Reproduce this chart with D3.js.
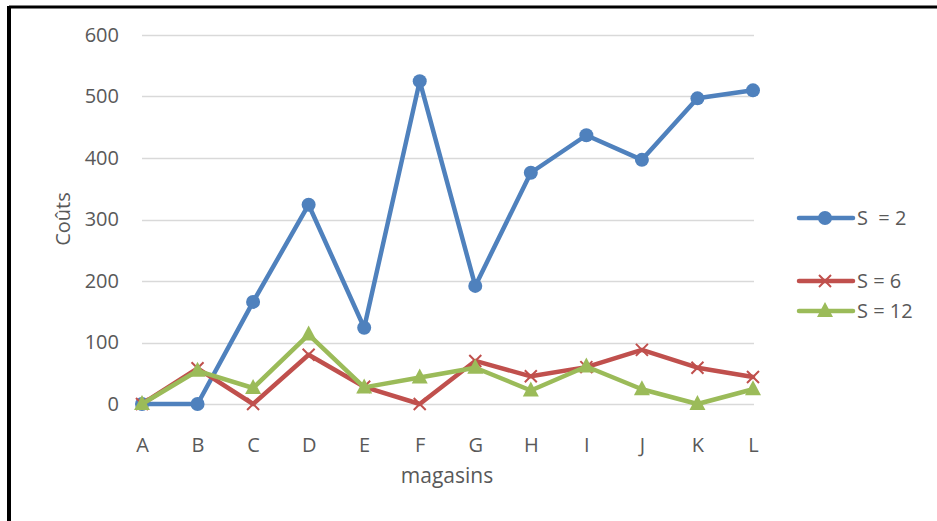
<!DOCTYPE html>
<html lang="fr">
<head>
    <meta charset="UTF-8">
    <title>Coûts par magasin</title>
    <script src="https://d3js.org/d3.v7.min.js"></script>
    <style>
        body { margin: 0; background: #fff; }
        text { font-family: "Open Sans", sans-serif; fill: #595959; }
    </style>
</head>
<body>
    <div id="chart"></div>
    <script>
        // data
        const magasins = ["A", "B", "C", "D", "E", "F", "G", "H", "I", "J", "K", "L"]
        const s2 = [0, 0, 166, 324, 124, 525, 192, 376, 437, 397, 497, 510]
        const s6 = [0, 58, 0, 80, 28, 0, 70, 45, 60, 88, 59, 44]
        const s12 = [0, 54, 26, 113, 27, 43, 59, 22, 61, 24, 0, 24]
        const yTicks = [0, 100, 200, 300, 400, 500, 600]

        const series = [
            {name: "S  = 2", values: s2, color: "#4F81BD", marker: "circle"},
            {name: "S = 6", values: s6, color: "#C0504D", marker: "cross"},
            {name: "S = 12", values: s12, color: "#9BBB59", marker: "triangle"}
        ]

        const width = 937, height = 521
        const font = "'Open Sans', sans-serif"

        const svg = d3.select("#chart").append("svg")
            .attr("width", width)
            .attr("height", height)

        // frame
        svg.append("line").attr("x1", 9).attr("x2", width).attr("y1", 7).attr("y2", 7)
            .attr("stroke", "#000").attr("stroke-width", 3)
        svg.append("line").attr("x1", 9).attr("x2", 9).attr("y1", 6).attr("y2", height)
            .attr("stroke", "#000").attr("stroke-width", 4)

        const x = d3.scalePoint().domain(magasins).range([142, 753])
        const y = d3.scaleLinear().domain([0, 600]).range([404, 35])

        // grid
        svg.append("g").selectAll("line").data(yTicks).enter()
            .append("line")
                .attr("x1", 142)
                .attr("x2", 754)
                .attr("y1", d => Math.round(y(d)) + 0.5)
                .attr("y2", d => Math.round(y(d)) + 0.5)
                .attr("stroke", "#d9d9d9")
                .attr("stroke-width", 1.5)

        // y axis labels
        const yAxis = svg.append("g")
            .attr("transform", "translate(142,0)")
            .call(d3.axisLeft(y).tickValues(yTicks).tickSize(0).tickPadding(23))
        yAxis.select(".domain").remove()
        yAxis.selectAll("text").style("font-size", "20px").style("font-family", font).attr("fill", "#595959")

        // x axis labels
        const xAxis = svg.append("g")
            .attr("transform", "translate(0,404)")
            .call(d3.axisBottom(x).tickSize(0))
        xAxis.select(".domain").remove()
        xAxis.selectAll("text")
            .attr("y", 48).attr("dy", null)
            .style("font-size", "20px").style("font-family", font).attr("fill", "#595959")

        // axis titles
        svg.append("text")
            .attr("transform", "translate(70,219) rotate(-90)")
            .attr("text-anchor", "middle")
            .style("font-size", "20px")
            .text("Coûts")
        svg.append("text")
            .attr("x", 447)
            .attr("y", 483)
            .attr("text-anchor", "middle")
            .style("font-size", "21px")
            .text("magasins")

        function drawMarker(g, type, color) {
            if (type === "circle") {
                g.append("circle").attr("r", 7).attr("fill", color)
            } else if (type === "triangle") {
                g.append("path").attr("d", "M0,-9L8,6L-8,6Z").attr("fill", color)
            } else {
                g.append("path").attr("d", "M-6,-6L6,6M-6,6L6,-6")
                    .attr("stroke", color).attr("stroke-width", 2).attr("fill", "none")
            }
        }

        const line = d3.line()
            .x((d, i) => x(magasins[i]))
            .y(d => y(d))

        series.forEach(s => {
            svg.append("path")
                .datum(s.values)
                .attr("d", line)
                .attr("fill", "none")
                .attr("stroke", s.color)
                .attr("stroke-width", 4.5)
                .attr("stroke-linejoin", "round")
                .attr("stroke-linecap", "round")
            s.values.forEach((v, i) => {
                const g = svg.append("g").attr("transform", `translate(${x(magasins[i])},${y(v)})`)
                drawMarker(g, s.marker, s.color)
            })
        })

        // legend
        const legendY = [218, 281, 311]
        series.forEach((s, i) => {
            const g = svg.append("g").attr("transform", `translate(0,${legendY[i]})`)
            g.append("line")
                .attr("x1", 799).attr("x2", 853).attr("y1", 0).attr("y2", 0)
                .attr("stroke", s.color).attr("stroke-width", 4.5).attr("stroke-linecap", "round")
            const m = g.append("g").attr("transform", "translate(825,0)")
            drawMarker(m, s.marker, s.color)
            g.append("text")
                .attr("x", 857)
                .attr("y", 0)
                .attr("dy", "0.36em")
                .style("font-size", "20px")
                .style("white-space", "pre")
                .text(s.name)
        })
    </script>
</body>
</html>
